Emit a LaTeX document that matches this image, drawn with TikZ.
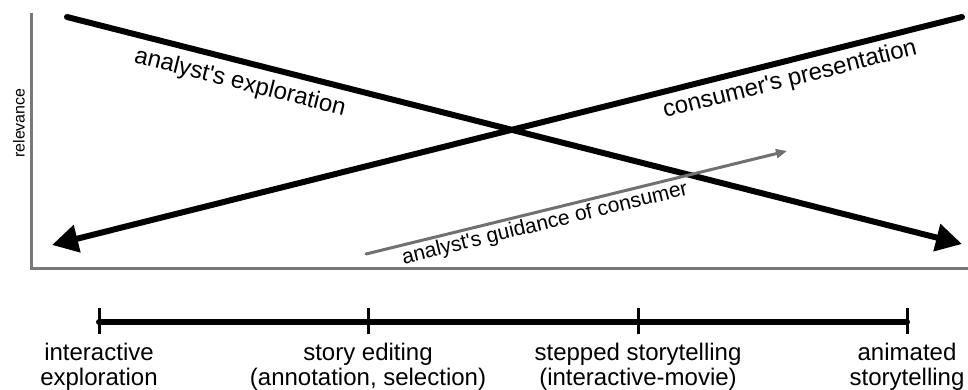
\documentclass[tikz,border=0pt]{standalone}
\usepackage{fontspec}
\setmainfont{Liberation Sans}
\usetikzlibrary{arrows.meta,positioning}
\definecolor{axisgray}{RGB}{120,120,120}
\definecolor{guidegray}{RGB}{112,112,112}
\newcommand{\apos}{\textquotesingle}

\begin{document}
\begin{tikzpicture}[x=1pt, y=-1pt,
    curvelabel/.style={font=\fontsize{24}{26}\selectfont, inner sep=0pt},
    stagelabel/.style={font=\fontsize{24}{25}\selectfont, align=center, inner sep=0pt}]
    \useasboundingbox (0,0) rectangle (968,390);
    % Axes
    \coordinate (ytop) at (31,13);
    \coordinate (origin) at (31,268);
    \coordinate (xend) at (968,268);
    \draw[axisgray, line width=3pt] (ytop) -- (origin) -- (xend);
    \node[rotate=90, font=\fontsize{16}{18}\selectfont, inner sep=0pt] (relevance) at (19,123) {relevance};
    % Crossing trends
    \coordinate (explstart) at (67,17);
    \coordinate (expltip) at (962,244);
    \coordinate (presstart) at (962,17);
    \coordinate (prestip) at (52,245);
    \draw[line width=6pt, line cap=round, -{Triangle[length=26pt, width=27pt]}] (explstart) -- (expltip);
    \draw[line width=6pt, line cap=round, -{Triangle[length=26pt, width=27pt]}] (presstart) -- (prestip);
    \node[curvelabel, rotate=-14.2] (expl) at (240,83) {analyst\apos s exploration};
    \node[curvelabel, rotate=14.1] (pres) at (790,80) {consumer\apos s presentation};
    % Guidance arrow
    \coordinate (guidestart) at (366,254);
    \coordinate (guidetip) at (787,151);
    \draw[guidegray, line width=3pt, line cap=round, -{Triangle[length=11pt, width=9pt]}] (guidestart) -- (guidetip);
    \node[font=\fontsize{21}{23}\selectfont, inner sep=0pt, rotate=13.75] (guide) at (545,224) {analyst\apos s guidance of consumer};
    % Timeline
    \coordinate (t1) at (99,322);
    \coordinate (t2) at (368,322);
    \coordinate (t3) at (638,322);
    \coordinate (t4) at (907,322);
    \draw[line width=6pt, line cap=round] (t1) -- (t4);
    \draw[line width=3pt] ([yshift=14pt]t1) -- ([yshift=-12pt]t1);
    \draw[line width=3pt] ([yshift=14pt]t2) -- ([yshift=-12pt]t2);
    \draw[line width=3pt] ([yshift=14pt]t3) -- ([yshift=-12pt]t3);
    \draw[line width=3pt] ([yshift=14pt]t4) -- ([yshift=-12pt]t4);
    \node[stagelabel, below=21pt of t1] (interactive) {interactive\\exploration};
    \node[stagelabel, below=21pt of t2] (editing) {story editing\\(annotation, selection)};
    \node[stagelabel, below=21pt of t3] (stepped) {stepped storytelling\\(interactive-movie)};
    \node[stagelabel, below=21pt of t4] (animated) {animated\\storytelling};
\end{tikzpicture}
\end{document}
